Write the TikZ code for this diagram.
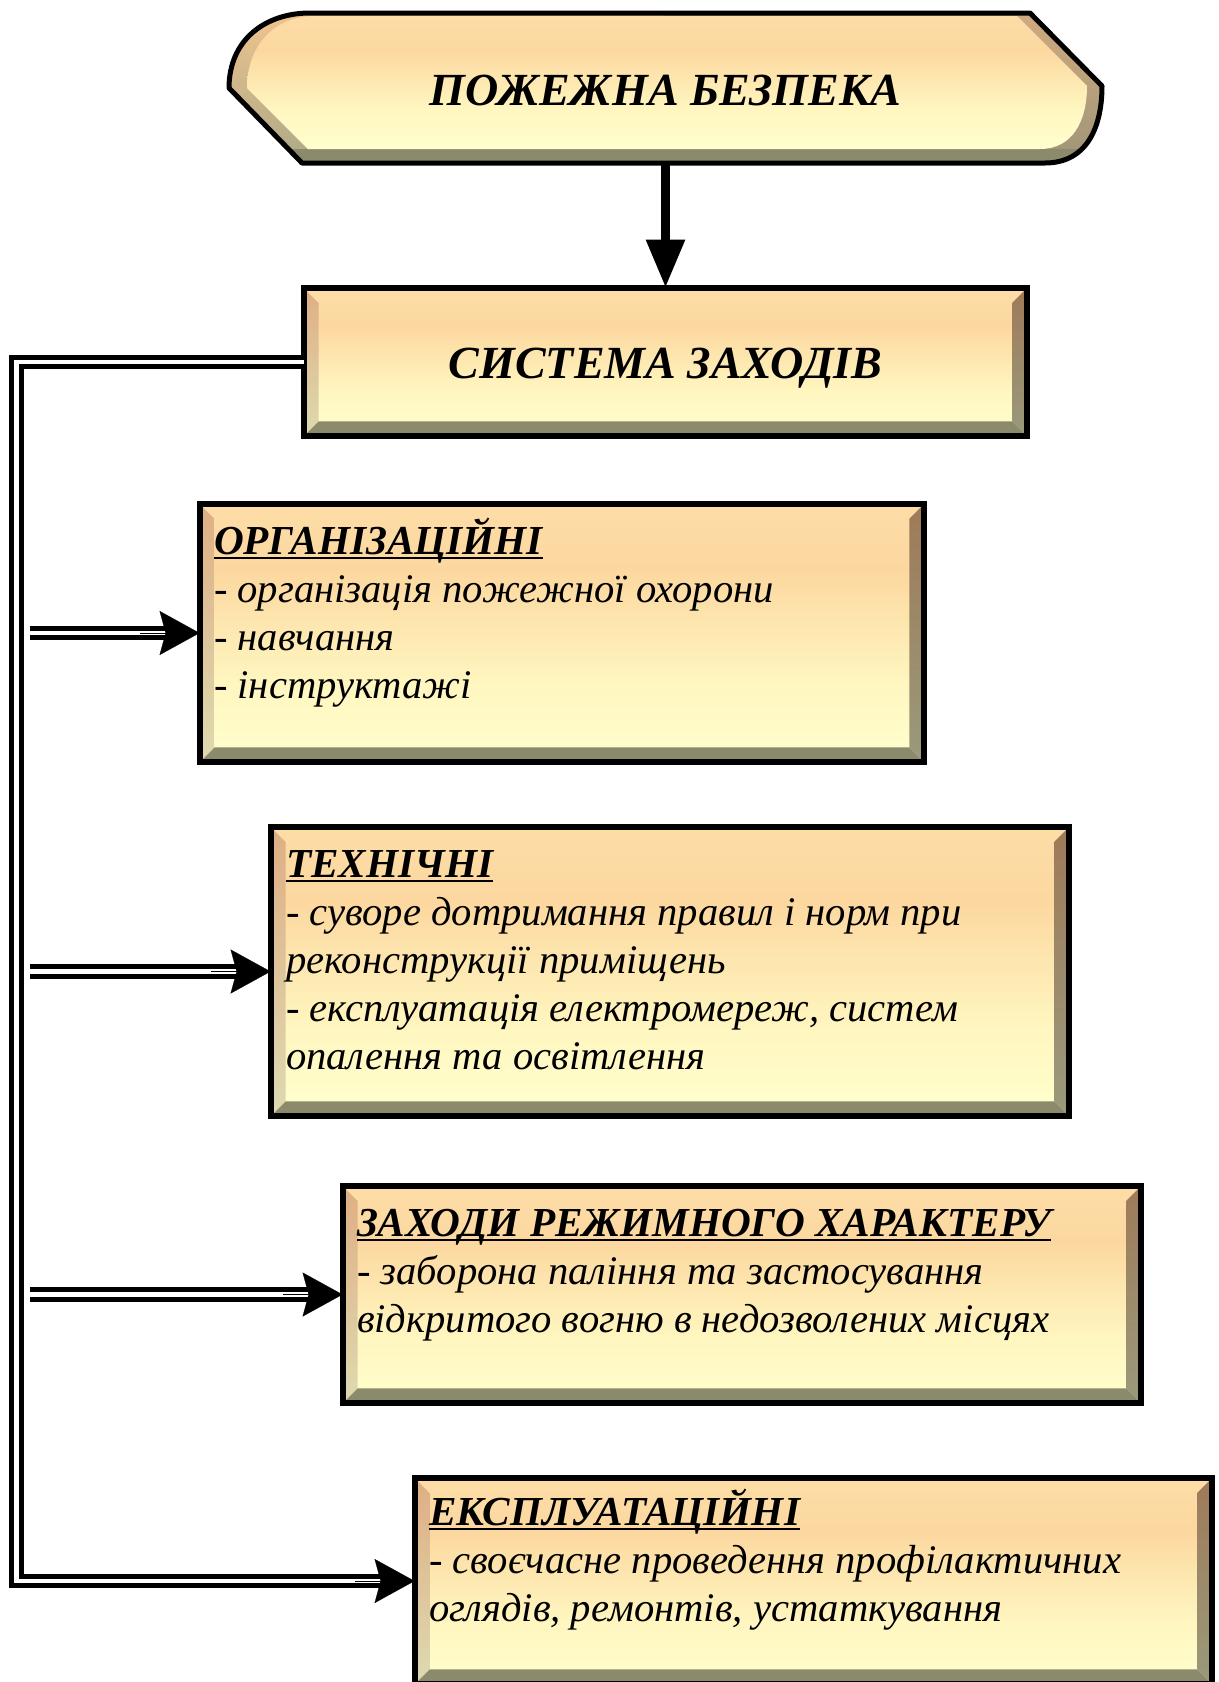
\documentclass[tikz,border=0pt]{standalone}
\usepackage{fontspec}
\setmainfont{Liberation Serif}
\usetikzlibrary{arrows.meta,calc,fit}

\definecolor{bvL1}{HTML}{DFAE84}
\definecolor{bvL2}{HTML}{DEDAB0}
\definecolor{bvR1}{HTML}{9E7A58}
\definecolor{bvR2}{HTML}{9A9A7C}
\definecolor{bvB}{HTML}{8B8A6C}
\definecolor{bvT}{HTML}{FDDCA6}
\definecolor{fB}{HTML}{FFFFCD}
\definecolor{fM}{HTML}{FFF6C0}
\definecolor{fT}{HTML}{FCD8A0}
\definecolor{fT2}{HTML}{FDDCA6}
\definecolor{bnL1}{HTML}{F5C68E}
\definecolor{bnL2}{HTML}{A8A888}
\definecolor{bnR1}{HTML}{D4AC80}
\definecolor{bnR2}{HTML}{9C9478}

\pgfdeclareverticalshading{boxfill}{100bp}{color(0bp)=(fB); color(25bp)=(fB); color(40bp)=(fM); color(62bp)=(fT); color(75bp)=(fT2); color(100bp)=(fT2)}

\tikzset{
  boxbase/.style={inner sep=0pt, shading=boxfill},
  dbl/.style={draw=black, line width=2.6pt, double=white, double distance=2.2pt},
  tipst/.style={line width=0.1pt, -{Stealth[length=20pt,width=22pt,inset=3pt]}},
  body/.style={anchor=base west, inner sep=0pt, font=\fontsize{20.3}{24}\selectfont\itshape},
  title/.style={anchor=base, inner sep=0pt, font=\fontsize{23}{27}\selectfont\bfseries\itshape},
}

\newcommand\hd[1]{\leavevmode{\fontsize{20.6}{24}\selectfont\bfseries\setbox0=\hbox{#1}\rlap{\rule[-2.4pt]{\wd0}{1.1pt}}\box0}}

\newcommand\bevbox[5]{%
  \node[boxbase, fit={(#2,#3) (#4,#5)}] (#1) {};
  \shade[top color=bvL1,bottom color=bvL2] (#1.north west) -- ($(#1.north west)+(15,15)$) -- ($(#1.south west)+(15,-15)$) -- (#1.south west) -- cycle;
  \fill[bvT] (#1.north west) -- (#1.north east) -- ($(#1.north east)+(-15,15)$) -- ($(#1.north west)+(15,15)$) -- cycle;
  \shade[top color=bvR1,bottom color=bvR2] (#1.north east) -- (#1.south east) -- ($(#1.south east)+(-15,-15)$) -- ($(#1.north east)+(-15,15)$) -- cycle;
  \fill[bvB] (#1.south west) -- (#1.south east) -- ($(#1.south east)+(-15,-15)$) -- ($(#1.south west)+(15,-15)$) -- cycle;
  \draw[line width=3pt] (#1.north west) rectangle (#1.south east);
}

\def\banpath{(229,88) .. controls (229,40) and (265,13) .. (310,13) -- (1030,13) -- (1102,86) .. controls (1102,130) and (1085,163) .. (1045,163) -- (302,163) -- cycle}

\begin{document}
\begin{tikzpicture}[x=0.5pt,y=-0.5pt]
\useasboundingbox (0,0) rectangle (1219,1682);

% boxes
\bevbox{sys}{304}{288}{1027}{436}
\bevbox{org}{200}{504}{924}{762}
\bevbox{tech}{271}{827}{1069}{1116}
\bevbox{reg}{343}{1186}{1141}{1403}
\bevbox{expl}{415}{1478}{1212}{1684}

% banner
\node[inner sep=0pt, fit={(229,13) (1102,163)}] (banner) {};
\draw[line width=4.5pt, line cap=round, -{Triangle[length=24pt,width=18.5pt]}] (banner.south) -- (sys.north);
\begin{scope}
  \clip \banpath;
  \shade[top color=bnL1,bottom color=bnL2] (220,0) rectangle (666,170);
  \shade[top color=bnR1,bottom color=bnR2] (665,0) rectangle (1110,170);
  \fill[bvB] (240,149) rectangle (1080,170);
\end{scope}
\shade[shading=boxfill] (247,88) .. controls (247,45) and (275,16) .. (315,16) -- (1017,16) -- (1087,86) .. controls (1087,122) and (1072,149) .. (1040,149) -- (308,149) -- cycle;
\draw[line width=2.5pt, line join=round] \banpath;

\node[title] (bantext) at ($(banner.center)+(0,17)$) {ПОЖЕЖНА БЕЗПЕКА};
\node[title] (systext) at ($(sys.center)+(0,16)$) {СИСТЕМА ЗАХОДІВ};

% texts
\node[body] (orgtext) at ($(org.north west)+(14,51)$) {\parbox[t]{380pt}{\raggedright
\hd{ОРГАНІЗАЦІЙНІ}\\
- організація пожежної охорони\\
- навчання\\
- інструктажі}};
\node[body] (techtext) at ($(tech.north west)+(15,51)$) {\parbox[t]{400pt}{\raggedright
\hd{ТЕХНІЧНІ}\\
- суворе дотримання правил і норм при\\
реконструкції приміщень\\
- експлуатація електромереж, систем\\
опалення та освітлення}};
\node[body] (regtext) at ($(reg.north west)+(14,51)$) {\parbox[t]{400pt}{\raggedright
\hd{ЗАХОДИ РЕЖИМНОГО ХАРАКТЕРУ}\\
- заборона паління та застосування\\
відкритого вогню в недозволених місцях}};
\node[body] (expltext) at ($(expl.north west)+(14,48)$) {\parbox[t]{400pt}{\raggedright
\hd{ЕКСПЛУАТАЦІЙНІ}\\
- своєчасне проведення профілактичних\\
оглядів, ремонтів, устаткування}};

% connectors
\coordinate (sp1) at ($(sys.west)+(-287,0)$);
\draw[dbl, shorten >=16pt] (sys.west) -- (sp1) -- (sp1 |- expl.west) -- (expl.west);
\draw[tipst] ($(expl.west)+(-60,0)$) -- (expl.west);

\coordinate (s1) at ($(org.west)+(-170,0)$);
\draw[dbl, shorten >=16pt] (s1) -- (org.west);
\draw[tipst] ($(org.west)+(-60,0)$) -- (org.west);

\coordinate (s2) at ($(tech.west)+(-241,0)$);
\draw[dbl, shorten >=16pt] (s2) -- (tech.west);
\draw[tipst] ($(tech.west)+(-60,0)$) -- (tech.west);

\coordinate (s3) at ($(reg.west)+(-313,0)$);
\draw[dbl, shorten >=16pt] (s3) -- (reg.west);
\draw[tipst] ($(reg.west)+(-60,0)$) -- (reg.west);
\end{tikzpicture}
\end{document}
